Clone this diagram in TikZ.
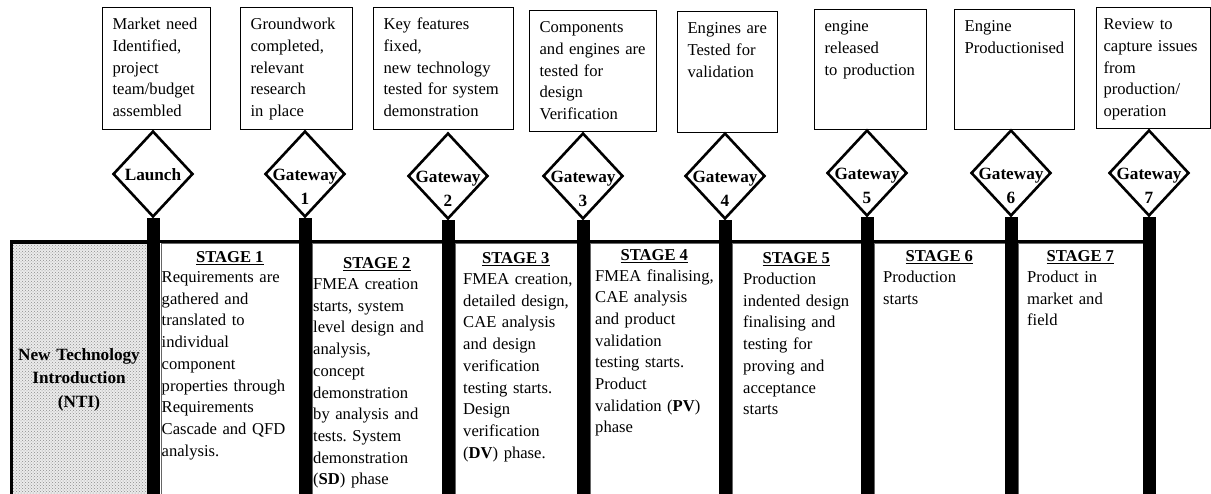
\documentclass[tikz,border=0pt]{standalone}
\usepackage{fontspec}
\setmainfont{Liberation Serif}
\usepackage{tikz}
\usetikzlibrary{shapes.geometric, patterns}
\hyphenpenalty=10000
\frenchspacing

\begin{document}
\begin{tikzpicture}[
    x=1pt, y=-1pt,
    notebox/.style={draw, line width=1.2pt, anchor=north west, align=left,
        inner xsep=10pt, inner ysep=10pt, text height=12pt, text depth=#1,
        font=\fontsize{16.6}{21.7}\selectfont},
    gate/.style={diamond, draw, line width=2.6pt, minimum width=80pt,
        minimum height=86pt, inner sep=0pt},
    gatelabel/.style={anchor=base, align=center, text width=90pt, inner sep=0pt,
        font=\bfseries\fontsize{17.2}{24}\selectfont},
    ntibox/.style={draw, line width=2.6pt, anchor=north west,
        preaction={fill=black!8}, pattern=crosshatch dots,
        pattern color=black!45, minimum width=138pt, minimum height=270pt},
    ntilabel/.style={anchor=base, align=center, text width=136pt, inner sep=0pt,
        font=\bfseries\fontsize{17.2}{23.5}\selectfont},
    cell/.style={draw=black!60, line width=0.6pt, anchor=north west,
        minimum height=270pt, inner sep=0pt},
    stagehead/.style={anchor=base, inner sep=0pt,
        font=\bfseries\fontsize{16.6}{21.7}\selectfont},
    stagetext/.style={anchor=base west, align=left, text width=150pt, inner sep=0pt,
        font=\fontsize{16.6}{21.7}\selectfont},
    rail/.style={draw, line width=3pt},
    bar/.style={draw, line width=13pt}
]
\useasboundingbox (0,0) rectangle (1211,493);
\coordinate (floor) at (0,500);

% Beschreibungen oben
\node[notebox=90pt, text width=88pt] (b0) at (102,7) {Market need\\Identified,\\project\\team/budget\\assembled};
\node[notebox=90pt, text width=92pt] (b1) at (240,7) {Groundwork\\completed,\\relevant\\research\\in place};
\node[notebox=90pt, text width=120pt] (b2) at (373,7) {Key features\\fixed,\\new technology\\tested for system\\demonstration};
\node[notebox=89pt, text width=107pt] (b3) at (529,10) {Components\\and engines are\\tested for\\design\\Verification};
\node[notebox=89pt, text width=80pt] (b4) at (677,11) {Engines are\\Tested for\\validation};
\node[notebox=88pt, text width=92pt] (b5) at (814,9) {engine\\released\\to production};
\node[notebox=88pt, text width=100pt] (b6) at (954,9) {Engine\\Productionised};
\node[notebox=89pt, text width=100pt, inner xsep=7pt] (b7) at (1096,7) {Review to\\capture issues\\from\\production/\\operation};

% Meilensteine
\node[gate] (g0) at (153,174) {};
\node[gate] (g1) at (305,174) {};
\node[gate] (g2) at (448,176) {};
\node[gate] (g3) at (583,176) {};
\node[gate] (g4) at (725,176) {};
\node[gate] (g5) at (867,173) {};
\node[gate] (g6) at (1011,173) {};
\node[gate] (g7) at (1149,173) {};

\node[gatelabel] (t0) at ([yshift=-6pt]g0) {Launch};
\node[gatelabel] (t1) at ([yshift=-6pt]g1) {Gateway\\1};
\node[gatelabel] (t2) at ([yshift=-6pt]g2) {Gateway\\2};
\node[gatelabel] (t3) at ([yshift=-6pt]g3) {Gateway\\3};
\node[gatelabel] (t4) at ([yshift=-6pt]g4) {Gateway\\4};
\node[gatelabel] (t5) at ([yshift=-6pt]g5) {Gateway\\5};
\node[gatelabel] (t6) at ([yshift=-6pt]g6) {Gateway\\6};
\node[gatelabel] (t7) at ([yshift=-6pt]g7) {Gateway\\7};

% Stufen
\node[ntibox] (nti) at (10,241) {};
\node[cell, minimum width=138pt] (c1) at (160.5,243) {};
\node[cell, minimum width=130pt] (c2) at (311.5,243) {};
\node[cell, minimum width=122pt] (c3) at (454.5,243) {};
\node[cell, minimum width=129pt] (c4) at (589.5,243) {};
\node[cell, minimum width=129pt] (c5) at (731.5,243) {};
\node[cell, minimum width=131pt] (c6) at (873.5,243) {};
\node[cell, minimum width=125pt] (c7) at (1017.5,243) {};

\draw[rail] (nti.north west) -- (nti.north west -| g7);
\draw[bar] (g0.south) -- (g0.south |- floor);
\draw[bar] (g1.south) -- (g1.south |- floor);
\draw[bar] (g2.south) -- (g2.south |- floor);
\draw[bar] (g3.south) -- (g3.south |- floor);
\draw[bar] (g4.south) -- (g4.south |- floor);
\draw[bar] (g5.south) -- (g5.south |- floor);
\draw[bar] (g6.south) -- (g6.south |- floor);
\draw[bar] (g7.south) -- (g7.south |- floor);

\node[ntilabel] (ntit) at (79,360) {New Technology\\Introduction\\(NTI)};

\node[stagehead] (h1) at ([yshift=-19.5pt]c1.north) {\underline{STAGE 1}};
\node[stagehead] (h2) at ([yshift=-25.5pt]c2.north) {\underline{STAGE 2}};
\node[stagehead] (h3) at ([yshift=-20.5pt]c3.north) {\underline{STAGE 3}};
\node[stagehead] (h4) at ([yshift=-17.5pt]c4.north) {\underline{STAGE 4}};
\node[stagehead] (h5) at ([yshift=-20.5pt]c5.north) {\underline{STAGE 5}};
\node[stagehead] (h6) at ([yshift=-18.5pt]c6.north) {\underline{STAGE 6}};
\node[stagehead] (h7) at ([yshift=-18.5pt]c7.north) {\underline{STAGE 7}};

\node[stagetext] (s1) at (161.5,282.5) {Requirements are\\gathered and\\translated to\\individual\\component\\properties through\\Requirements\\Cascade and QFD\\analysis.};
\node[stagetext] (s2) at (313,289.5) {FMEA creation\\starts, system\\level design and\\analysis,\\concept\\demonstration\\by analysis and\\tests. System\\demonstration\\(\textbf{SD}) phase};
\node[stagetext] (s3) at (463,284.5) {FMEA creation,\\detailed design,\\CAE analysis\\and design\\verification\\testing starts.\\Design\\verification\\(\textbf{DV}) phase.};
\node[stagetext] (s4) at (595,281) {FMEA finalising,\\CAE analysis\\and product\\validation\\testing starts.\\Product\\validation (\textbf{PV})\\phase};
\node[stagetext] (s5) at (743,284.5) {Production\\indented design\\finalising and\\testing for\\proving and\\acceptance\\starts};
\node[stagetext] (s6) at (883,282.5) {Production\\starts};
\node[stagetext] (s7) at (1027,282.5) {Product in\\market and\\field};

\end{tikzpicture}
\end{document}
